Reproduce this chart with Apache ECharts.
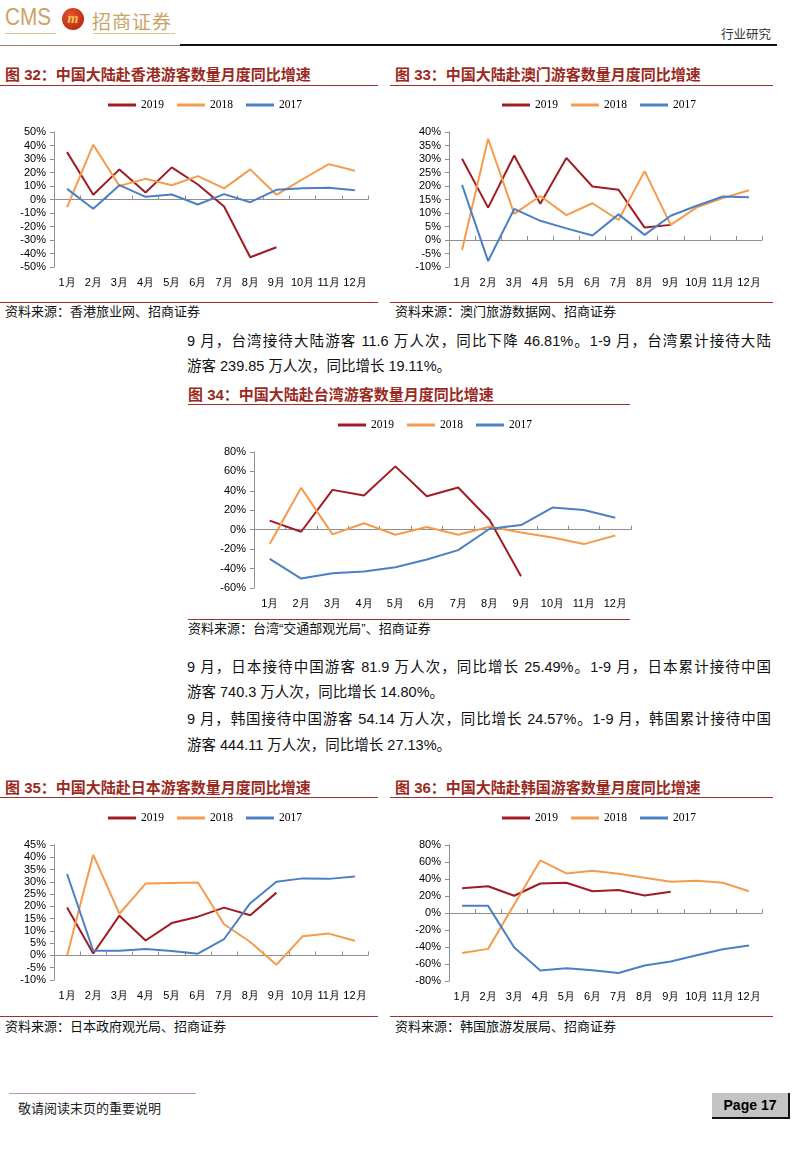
<!DOCTYPE html>
<html>
<head>
<meta charset="utf-8">
<script src="https://cdn.jsdelivr.net/npm/echarts@6/dist/echarts.min.js"></script>
<style>
  html, body { margin: 0; padding: 0; background: #fff; }
  #page { position: relative; width: 800px; height: 1164px; overflow: hidden;
          font-family: "Liberation Sans", "Noto Sans CJK SC", sans-serif; color: #000; }
  .abs { position: absolute; white-space: nowrap; }
  .title { font-size: 15px; font-weight: bold; color: #9A2A1E; line-height: 18px; }
  .rule { position: absolute; height: 0; border-top: 1.5px solid #A0302A; }
  .src { font-size: 13px; line-height: 16px; color: #111; }
  .para { font-size: 14.5px; line-height: 20px; color: #111; }
  .full { width: 584px; text-align: justify; text-align-last: justify; }
  .chart { position: absolute; }
</style>
</head>
<body>
<div id="page">
  <!-- header -->
  <div class="abs" style="left:5px;top:4px;font-size:23px;color:#C9A462;transform:scaleX(0.9);transform-origin:left top;">CMS</div>
  <div class="abs" style="left:62px;top:8px;width:22px;height:22px;border-radius:50%;background:radial-gradient(circle at 40% 35%,#E8542C,#A8200E);color:#F2C65A;font:italic bold 14px 'Liberation Serif';text-align:center;line-height:22px;">m</div>
  <div class="abs" style="left:92px;top:7px;font-size:19px;color:#C9A462;letter-spacing:1px;">招商证券</div>
  <div class="rule" style="left:5px;top:33px;width:51px;border-top:1px solid #DCC594;"></div>
  <div class="rule" style="left:93px;top:33px;width:82px;border-top:1px solid #DCC594;"></div>
  <div class="abs" style="left:721px;top:24px;font-size:12.5px;color:#333;">行业研究</div>
  <div class="rule" style="left:0;top:45px;width:180px;border-top:1px solid #B07A6A;"></div>
  <div class="rule" style="left:180px;top:44px;width:597px;border-top:2px solid #111;"></div>

  <!-- figure 32 / 33 -->
  <div class="abs title" style="left:5px;top:66px;">图 32：中国大陆赴香港游客数量月度同比增速</div>
  <div class="rule" style="left:0;top:85px;width:378px;"></div>
  <div class="chart" id="c32" style="left:0;top:92px;width:390px;height:210px;"></div>
  <div class="rule" style="left:0;top:302px;width:378px;"></div>
  <div class="abs src" style="left:5px;top:304px;">资料来源：香港旅业网、招商证券</div>

  <div class="abs title" style="left:395px;top:66px;">图 33：中国大陆赴澳门游客数量月度同比增速</div>
  <div class="rule" style="left:390px;top:85px;width:383px;"></div>
  <div class="chart" id="c33" style="left:390px;top:92px;width:410px;height:210px;"></div>
  <div class="rule" style="left:390px;top:302px;width:383px;"></div>
  <div class="abs src" style="left:395px;top:304px;">资料来源：澳门旅游数据网、招商证券</div>

  <!-- paragraph -->
  <div class="abs para full" style="left:187px;top:331px;">9 月，台湾接待大陆游客 11.6 万人次，同比下降 46.81%。1-9 月，台湾累计接待大陆</div>
  <div class="abs para" style="left:187px;top:356px;">游客 239.85 万人次，同比增长 19.11%。</div>

  <!-- figure 34 -->
  <div class="abs title" style="left:188px;top:386px;">图 34：中国大陆赴台湾游客数量月度同比增速</div>
  <div class="rule" style="left:188px;top:404px;width:442px;"></div>
  <div class="chart" id="c34" style="left:180px;top:412px;width:460px;height:206px;"></div>
  <div class="rule" style="left:188px;top:619px;width:442px;"></div>
  <div class="abs src" style="left:188px;top:621px;">资料来源：台湾“交通部观光局”、招商证券</div>

  <!-- paragraphs -->
  <div class="abs para full" style="left:187px;top:657px;">9 月，日本接待中国游客 81.9 万人次，同比增长 25.49%。1-9 月，日本累计接待中国</div>
  <div class="abs para" style="left:187px;top:682px;">游客 740.3 万人次，同比增长 14.80%。</div>
  <div class="abs para full" style="left:187px;top:709px;">9 月，韩国接待中国游客 54.14 万人次，同比增长 24.57%。1-9 月，韩国累计接待中国</div>
  <div class="abs para" style="left:187px;top:735px;">游客 444.11 万人次，同比增长 27.13%。</div>

  <!-- figure 35 / 36 -->
  <div class="abs title" style="left:5px;top:779px;">图 35：中国大陆赴日本游客数量月度同比增速</div>
  <div class="rule" style="left:0;top:797px;width:378px;"></div>
  <div class="chart" id="c35" style="left:0;top:806px;width:390px;height:210px;"></div>
  <div class="rule" style="left:0;top:1016px;width:378px;"></div>
  <div class="abs src" style="left:5px;top:1019px;">资料来源：日本政府观光局、招商证券</div>

  <div class="abs title" style="left:395px;top:779px;">图 36：中国大陆赴韩国游客数量月度同比增速</div>
  <div class="rule" style="left:390px;top:797px;width:383px;"></div>
  <div class="chart" id="c36" style="left:390px;top:806px;width:410px;height:210px;"></div>
  <div class="rule" style="left:390px;top:1016px;width:383px;"></div>
  <div class="abs src" style="left:395px;top:1019px;">资料来源：韩国旅游发展局、招商证券</div>

  <!-- footer -->
  <div class="rule" style="left:9px;top:1093px;width:187px;border-top:1.5px solid #C49A96;"></div>
  <div class="abs" style="left:18px;top:1098px;font-size:13px;color:#222;">敬请阅读末页的重要说明</div>
  <div class="abs" style="left:712px;top:1093px;width:76px;height:24px;background:#C4C4C4;border-right:2px solid #111;border-bottom:2px solid #111;font:bold 14px 'Liberation Sans';line-height:24px;text-align:center;">Page 17</div>
</div>

<script>
var months = ['1月', '2月', '3月', '4月', '5月', '6月', '7月', '8月', '9月', '10月', '11月', '12月'];
var years = ['2019', '2018', '2017'];

// 图32 香港
var hk2019 = [35.1, 3.5, 22.3, 5.2, 23.8, 11.1, -5.2, -42.8, -35.4];
var hk2018 = [-5.7, 40.6, 10.1, 15.3, 10.6, 17.3, 8.2, 22.3, 3.5, 15.0, 26.2, 21.3];
var hk2017 = [7.9, -6.9, 10.6, 2.0, 3.7, -3.7, 4.0, -2.0, 7.2, 8.4, 8.7, 6.9];

// 图33 澳门
var mo2019 = [30.1, 12.0, 31.3, 13.4, 30.4, 19.8, 18.6, 4.6, 5.6];
var mo2018 = [-3.7, 37.5, 9.7, 16.3, 9.2, 13.6, 7.4, 25.5, 5.6, 12.1, 15.5, 18.4];
var mo2017 = [20.4, -7.8, 11.5, 7.1, 4.3, 1.7, 9.5, 1.9, 9.0, 12.7, 16.1, 15.8];

// 图34 台湾
var tw2019 = [9.3, -2.1, 41.0, 35.2, 65.2, 34.5, 43.4, 10.0, -47.9];
var tw2018 = [-14.8, 43.1, -4.8, 6.6, -5.2, 2.8, -5.2, 3.1, -2.8, -8.0, -14.8, -5.9];
var tw2017 = [-30.0, -50.3, -44.8, -43.1, -38.6, -30.7, -21.0, 1.0, 4.8, 22.8, 20.3, 12.4];

// 图35 日本
var jp2019 = [19.5, 0.8, 16.2, 6.1, 13.2, 15.8, 19.5, 16.4, 25.6];
var jp2018 = [0.0, 41.0, 17.0, 29.3, 29.5, 29.7, 12.7, 5.5, -3.8, 7.8, 8.9, 6.0];
var jp2017 = [33.2, 1.9, 1.9, 2.6, 1.8, 0.7, 6.7, 21.3, 30.0, 31.4, 31.2, 32.2];

// 图36 韩国
var kr2019 = [29.1, 31.5, 20.3, 34.7, 35.5, 25.5, 27.1, 20.7, 25.1];
var kr2018 = [-47.0, -42.2, 10.0, 61.8, 46.6, 49.8, 46.2, 41.4, 36.7, 37.8, 35.5, 25.5];
var kr2017 = [8.4, 8.4, -40.6, -67.7, -64.9, -67.3, -70.5, -61.8, -57.0, -49.8, -42.6, -38.2];

var colors = ['#A01C22', '#F59B4C', '#4B80C6'];
var axisColor = '#8E8E8E';

function drawChart(id, grid, legendLeft, yMin, yMax, yStep, d2019, d2018, d2017) {
    var chart = echarts.init(document.getElementById(id), null, { renderer: 'canvas' });
    var lbl = { color: '#000', fontSize: 11, fontFamily: 'Liberation Sans' };
    var series = [d2019, d2018, d2017].map(function (d, i) {
        return {
            name: years[i],
            type: 'line',
            data: d,
            xAxisIndex: 0,
            symbol: 'none',
            smooth: false,
            lineStyle: { width: 2, color: colors[i] },
            itemStyle: { color: colors[i] }
        };
    });
    chart.setOption({
        animation: false,
        color: colors,
        legend: {
            data: years.map(function (y) { return { name: y, icon: 'rect' }; }),
            left: legendLeft,
            top: grid.top - 38,
            itemWidth: 28,
            itemHeight: 3,
            itemGap: 13,
            textStyle: { fontFamily: 'Liberation Serif', fontSize: 11.5, color: '#000' }
        },
        grid: { left: grid.left, top: grid.top, width: grid.width, height: grid.height },
        xAxis: [{
            type: 'category',
            data: months,
            boundaryGap: true,
            axisLine: { onZero: true, lineStyle: { color: axisColor, width: 1 } },
            axisTick: { show: true, inside: true, length: 4, interval: 0, lineStyle: { color: axisColor } },
            axisLabel: { show: false },
            splitLine: { show: false }
        }, {
            type: 'category',
            data: months,
            position: 'bottom',
            boundaryGap: true,
            axisLine: { show: false, onZero: false },
            axisTick: { show: false },
            axisLabel: Object.assign({ interval: 0, margin: 10 }, lbl),
            splitLine: { show: false }
        }],
        yAxis: {
            type: 'value',
            min: yMin,
            max: yMax,
            interval: yStep,
            axisLine: { show: true, onZero: false, lineStyle: { color: axisColor, width: 1 } },
            axisTick: { show: true, length: 4, lineStyle: { color: axisColor } },
            axisLabel: Object.assign({ margin: 8, formatter: '{value}%' }, lbl),
            splitLine: { show: false }
        },
        series: series
    });
}

drawChart('c32', { left: 54, top: 40, width: 314, height: 135 }, 103, -50, 50, 10, hk2019, hk2018, hk2017);
drawChart('c33', { left: 59, top: 40, width: 313, height: 135 }, 107, -10, 40, 5, mo2019, mo2018, mo2017);
drawChart('c34', { left: 74, top: 40, width: 377, height: 136 }, 153, -60, 80, 20, tw2019, tw2018, tw2017);
drawChart('c35', { left: 54, top: 39, width: 314, height: 135 }, 103, -10, 45, 5, jp2019, jp2018, jp2017);
drawChart('c36', { left: 59, top: 39, width: 313, height: 136 }, 107, -80, 80, 20, kr2019, kr2018, kr2017);
</script>
</body>
</html>
